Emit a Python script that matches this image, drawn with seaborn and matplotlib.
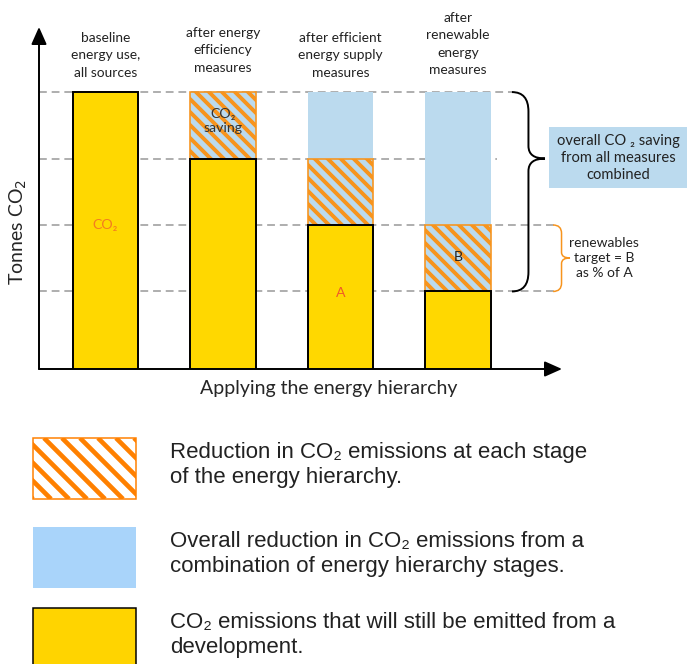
import numpy as np
import pandas as pd
import matplotlib.pyplot as plt
import seaborn as sns
from matplotlib.path import Path
from matplotlib.patches import PathPatch, Rectangle

# stages of the energy hierarchy (tonnes CO2, baseline = 100)
stages = ['baseline\nenergy use,\nall sources',
          'after energy\nefficiency\nmeasures',
          'after efficient\nenergy supply\nmeasures',
          'after\nrenewable\nenergy\nmeasures']
baseline = [100, 100, 100, 100]
before_stage = [100, 100, 76, 52]
remaining = [100, 76, 52, 28]

legend_labels = ['Reduction in CO\u2082 emissions at each stage\nof the energy hierarchy.',
                 'Overall reduction in CO\u2082 emissions from a\ncombination of energy hierarchy stages.',
                 'CO\u2082 emissions that will still be emitted from a\ndevelopment.']

yellow = '#FFD800'
blue = '#BBDAEE'
orange = '#F7941D'

DPI = 78
sns.set_style('white')
plt.rcParams['font.family'] = ['Lato', 'DejaVu Sans']
plt.rcParams['hatch.linewidth'] = 3.6

fig = plt.figure(figsize=(687 / DPI, 664 / DPI), dpi=DPI)
ax = fig.add_axes([39 / 687, 1 - 369 / 664, 523 / 687, 342 / 664])

df = pd.DataFrame({'stage': stages, 'baseline': baseline,
                   'before': before_stage, 'remaining': remaining})

w = 0.557
# overall saving (blue), stage saving (hatched), what is still emitted (yellow)
sns.barplot(data=df, x='stage', y='baseline', color=blue, saturation=1,
            width=w, linewidth=0, errorbar=None, ax=ax, zorder=2)
sns.barplot(data=df, x='stage', y='before', color=blue, saturation=1,
            width=w, edgecolor=orange, linewidth=1.5, hatch='\\\\',
            errorbar=None, ax=ax, zorder=3)
sns.barplot(data=df, x='stage', y='remaining', color=yellow, saturation=1,
            width=w, edgecolor='black', linewidth=1.8, errorbar=None,
            ax=ax, zorder=4)

ax.set_xlim(-0.566, 3.885)
ax.set_ylim(0, 123.5)
for s in ax.spines.values():
    s.set_visible(False)
ax.set_xticks([])
ax.set_yticks([])

# axis arrows
arrow = dict(arrowstyle='-|>,head_length=0.45,head_width=0.2', color='black',
             lw=1.8, mutation_scale=30, shrinkA=0, shrinkB=0)
ax.annotate('', xy=(0, 1), xytext=(0, 0), xycoords='axes fraction', arrowprops=arrow)
ax.annotate('', xy=(1, 0), xytext=(0, 0), xycoords='axes fraction', arrowprops=arrow)

ax.set_xlabel('Applying the energy hierarchy', fontsize=18)
ax.xaxis.set_label_coords(0.554, -0.056)
ax.xaxis.label.set_va('center')
ax.set_ylabel('Tonnes CO$_2$', fontsize=18)
ax.yaxis.set_label_coords(-0.040, 0.40)
ax.yaxis.label.set_va('center')

# dashed guide lines at each level
ax.hlines(remaining, -0.566, [3.468, 3.332, 3.83, 3.83], colors='#AFAFAF',
          linestyles=(0, (4, 2.5)), lw=1.8, zorder=1, clip_on=False)

# stage labels above the bars
label_px = [55, 50, 55, 44]
for i, lab in enumerate(stages):
    ax.text(i, (369 - label_px[i]) / 2.77, lab, ha='center', va='center',
            fontsize=12.7, linespacing=1.55, color='#222222', clip_on=False)

ax.text(0, 52, 'CO\u2082', ha='center', va='center', fontsize=13,
        color='#F47B20', zorder=6)
ax.text(1, 89.5, 'CO\u2082\nsaving', ha='center', va='center', fontsize=13,
        color='#333333', linespacing=1.25, zorder=6)
ax.text(2, 27.5, 'A', ha='center', va='center', fontsize=13, color='#F05A28', zorder=6)
ax.text(3, 40.3, 'B', ha='center', va='center', fontsize=13, color='#222222', zorder=6)


def brace(x0, x1, y_top, y_bot, y_tip, r_end, r_tip, color, lw):
    xm = (x0 + x1) / 2
    verts = [(x0, y_top), (xm, y_top), (xm, y_top - r_end), (xm, y_tip + r_tip),
             (xm, y_tip), (x1, y_tip), (xm, y_tip), (xm, y_tip - r_tip),
             (xm, y_bot + r_end), (xm, y_bot), (x0, y_bot)]
    codes = [Path.MOVETO, Path.CURVE3, Path.CURVE3, Path.LINETO, Path.CURVE3,
             Path.CURVE3, Path.CURVE3, Path.CURVE3, Path.LINETO, Path.CURVE3,
             Path.CURVE3]
    ax.add_patch(PathPatch(Path(verts, codes), fc='none', ec=color, lw=lw,
                           clip_on=False, zorder=5))


brace(3.459, 3.74, remaining[0], remaining[3], remaining[1], 7, 4.5, 'black', 1.8)
brace(3.809, 3.953, remaining[2], remaining[3], 40.1, 3, 2, orange, 1.4)

ax.text(4.243, 40.1, 'renewables\ntarget = B\nas % of A', ha='center', va='center',
        fontsize=12.8, linespacing=1.3, color='#222222', clip_on=False)

# overlay in pixel coordinates for the side box and legend
ov = fig.add_axes([0, 0, 1, 1], zorder=5)
ov.set_xlim(0, 687)
ov.set_ylim(664, 0)
ov.axis('off')

ov.add_patch(Rectangle((549, 127), 140, 61, color=blue, lw=0))
ov.text(618, 158, 'overall CO \u2082 saving\nfrom all measures\ncombined', ha='center',
        va='center', fontsize=13.6, linespacing=1.3, color='#222222')

# legend
box_top = [438, 527, 608]
r1 = Rectangle((33, box_top[0]), 103, 61, fc='white', ec='#FF8000', lw=1.4)
ov.add_patch(r1)
for c in np.arange(33 - 61, 33 + 103 + 18, 18):
    ln, = ov.plot([c, c + 61], [box_top[0], box_top[0] + 61], color='#FF8000',
                  lw=4.3, solid_capstyle='butt')
    ln.set_clip_path(r1)
ov.add_patch(Rectangle((33, box_top[1]), 103, 61, fc='#A9D4FA', lw=0))
ov.add_patch(Rectangle((33, box_top[2]), 103, 62, fc='#FFD400', ec='black', lw=1.4))

for top, lab in zip(box_top, legend_labels):
    ov.text(170, top + 27, lab, ha='left', va='center', fontsize=20.5,
            linespacing=1.27, family=['Liberation Sans', 'DejaVu Sans'],
            color='#222222')

fig.savefig('out.png', dpi=DPI)
